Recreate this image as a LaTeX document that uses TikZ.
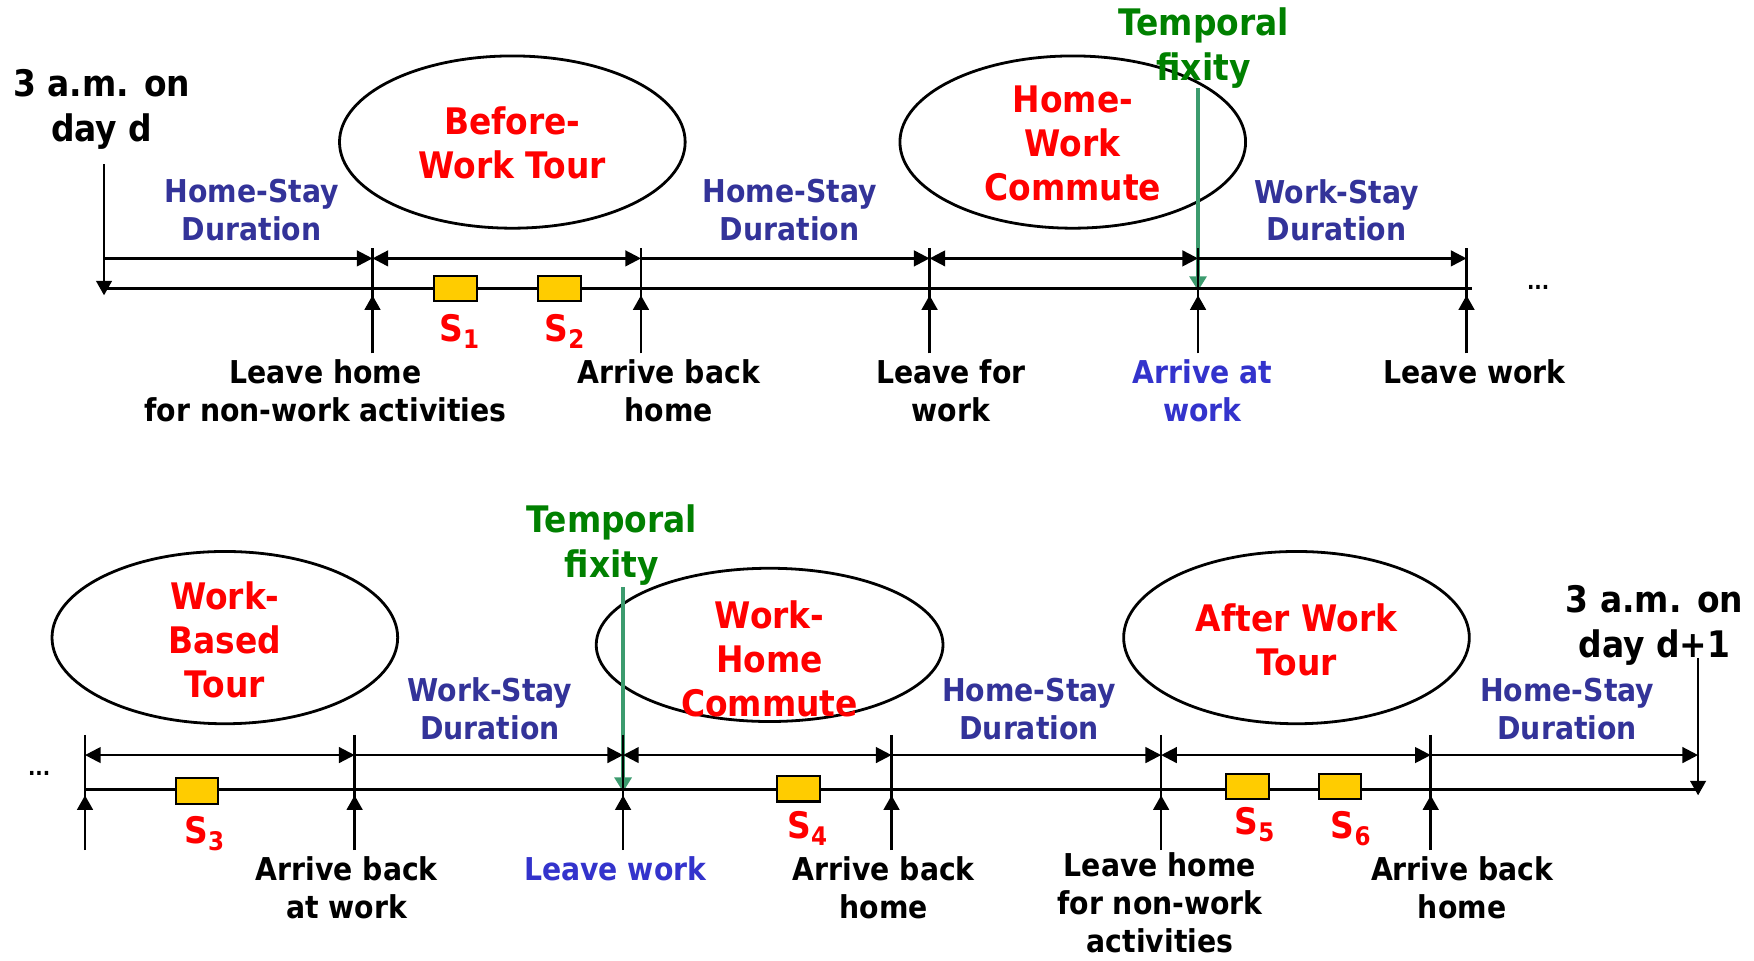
\documentclass[tikz,border=0pt]{standalone}
\usepackage{fontspec}
\setmainfont{DejaVu Sans}[FakeStretch=0.9]
\usetikzlibrary{arrows.meta,shapes.geometric}

\definecolor{tourred}{RGB}{255,0,0}
\definecolor{durblue}{RGB}{51,51,153}
\definecolor{evblue}{RGB}{51,51,204}
\definecolor{fixgreen}{RGB}{0,128,0}
\definecolor{fixline}{RGB}{60,155,110}
\definecolor{stopyellow}{RGB}{255,204,0}

\newcommand\fsLabel{\fontsize{16}{19.3}\selectfont}
\newcommand\fsTour{\fontsize{18.6}{22.4}\selectfont}
\newcommand\fsHead{\fontsize{18.6}{22.7}\selectfont}
\newcommand\fsDots{\fontsize{11}{13}\selectfont}

\begin{document}
\begin{tikzpicture}[x=0.2mm,y=-0.2mm,font=\bfseries,
  timeline/.style={line width=0.6mm},
  span/.style={line width=0.42mm},
  stay/.style={span,-{Triangle[length=2.8mm,width=2.8mm]}},
  tourspan/.style={span,{Triangle[length=2.8mm,width=2.8mm]}-{Triangle[length=2.8mm,width=2.8mm]}},
  tickline/.style={line width=0.45mm},
  event/.style={tickline,-{Triangle[length=2.6mm,width=2.8mm]}},
  fixarrow/.style={draw=fixline,line width=0.72mm,-{Triangle[length=2.6mm,width=3mm,fill=fixline]}},
  stopbox/.style={draw,line width=0.36mm,fill=stopyellow,minimum width=7.6mm,minimum height=4.6mm,inner sep=0},
  tourshape/.style={draw,ellipse,line width=0.5mm,minimum width=61.8mm,minimum height=30.8mm,inner sep=0},
  lbl/.style={align=center,inner sep=0,font=\bfseries\fsLabel},
  dur/.style={lbl,text=durblue},
  evlbl/.style={lbl,text=evblue},
  tourtxt/.style={align=center,inner sep=0,font=\bfseries\fsTour,text=tourred},
  head/.style={align=center,inner sep=0,font=\bfseries\fsHead},
  fix/.style={head,text=fixgreen},
  stoplbl/.style={inner sep=0,font=\bfseries\fsTour,text=tourred},
  dots/.style={inner sep=0,font=\bfseries\fsDots,anchor=base}]
\useasboundingbox (0,0) rectangle (1568,859);

% ---------------- first half of the day ----------------
\coordinate (dayA) at (93,147);
\coordinate (dayAtip) at (93,264);
\coordinate (lineAstart) at (93,258);
\coordinate (lineAend) at (1316,258);
\coordinate (spanAstart) at (93,231);
\foreach \x [count=\i] in {333,573,831,1071,1311}{
  \coordinate (tA\i) at (\x,222);
  \coordinate (dA\i) at (\x,231);
  \coordinate (bA\i) at (\x,316);
  \coordinate (uA\i) at (\x,264);
}

\node[tourshape] (bwt) at (458,127) {};
\node[tourshape] (hwc) at (959,127) {};

\coordinate (fixAtop) at (1071,79);
\coordinate (fixAtip) at (1071,260);
\draw[fixarrow] (fixAtop) -- (fixAtip);

\draw[timeline] (lineAstart) -- (lineAend);
\draw[event] (dayA) -- (dayAtip);
\foreach \i in {1,...,5}{
  \draw[tickline] (tA\i) -- (bA\i);
  \draw[event] (bA\i) -- (uA\i);
}
\draw[stay] (spanAstart) -- (dA1);
\draw[tourspan] (dA1) -- (dA2);
\draw[stay] (dA2) -- (dA3);
\draw[tourspan] (dA3) -- (dA4);
\draw[stay] (dA4) -- (dA5);

\node[stopbox] (s1) at (407,258) {};
\node[stopbox] (s2) at (500,258) {};
\node[stoplbl] (s1l) at (411,296) {S\textsubscript{1}};
\node[stoplbl] (s2l) at (505,296) {S\textsubscript{2}};

\node[head] (amA) at (91,98) {3 a.m. on\\day d};
\node[tourtxt] (bwtt) at (458,128) {Before-\\Work Tour};
\node[tourtxt] (hwct) at (959,128) {Home-\\Work\\Commute};
\node[fix] (fixA) at (1076,43) {Temporal\\fixity};
\node[dur] (durA1) at (225,188) {Home-Stay\\Duration};
\node[dur] (durA2) at (706,188) {Home-Stay\\Duration};
\node[dur] (durA3) at (1195,188) {Work-Stay\\Duration};

\node[lbl] (evA1) at (291,349) {Leave home\\for non-work activities};
\node[lbl] (evA2) at (598,349) {Arrive back\\home};
\node[lbl] (evA3) at (850,349) {Leave for\\work};
\node[evlbl] (evA4) at (1075,349) {Arrive at\\work};
\node[lbl] (evA5) at (1318,332) {Leave work};
\node[dots] (moreA) at (1375,259) {...};

% ---------------- second half of the day ----------------
\coordinate (lineBstart) at (76,706);
\coordinate (lineBend) at (1518,706);
\coordinate (spanBend) at (1518,675);
\coordinate (dayB) at (1518,588);
\coordinate (dayBtip) at (1518,711);
\foreach \x [count=\i] in {76,317,557,797,1038,1279}{
  \coordinate (tB\i) at (\x,657);
  \coordinate (dB\i) at (\x,675);
  \coordinate (bB\i) at (\x,760);
  \coordinate (uB\i) at (\x,711);
}

\node[tourshape] (wbt) at (201,570) {};
\node[tourshape,minimum width=62mm,minimum height=27.4mm] (whc) at (688,576.5) {};
\node[tourshape] (awt) at (1159,570) {};

\coordinate (fixBtop) at (557,525);
\coordinate (fixBtip) at (557,708);
\draw[fixarrow] (fixBtop) -- (fixBtip);

\draw[timeline] (lineBstart) -- (lineBend);
\draw[event] (dayB) -- (dayBtip);
\foreach \i in {1,...,6}{
  \draw[tickline] (tB\i) -- (bB\i);
  \draw[event] (bB\i) -- (uB\i);
}
\draw[tourspan] (dB1) -- (dB2);
\draw[stay] (dB2) -- (dB3);
\draw[tourspan] (dB3) -- (dB4);
\draw[stay] (dB4) -- (dB5);
\draw[tourspan] (dB5) -- (dB6);
\draw[stay] (dB6) -- (spanBend);

\node[stopbox] (s3) at (176,707) {};
\node[stopbox] (s4) at (714,705) {};
\node[stopbox] (s5) at (1115,703) {};
\node[stopbox] (s6) at (1198,703) {};
\node[stoplbl] (s3l) at (183,745) {S\textsubscript{3}};
\node[stoplbl] (s4l) at (722,741) {S\textsubscript{4}};
\node[stoplbl] (s5l) at (1122,737) {S\textsubscript{5}};
\node[stoplbl] (s6l) at (1208,741) {S\textsubscript{6}};

\node[tourtxt] (wbtt) at (201,572) {Work-\\Based\\Tour};
\node[tourtxt] (whct) at (688,589) {Work-\\Home\\Commute};
\node[tourtxt] (awtt) at (1159,572) {After Work\\Tour};
\node[fix] (fixB) at (547,487) {Temporal\\fixity};
\node[head] (amB) at (1479,559) {3 a.m. on\\day d+1};
\node[dur] (durB1) at (438,634) {Work-Stay\\Duration};
\node[dur] (durB2) at (920,634) {Home-Stay\\Duration};
\node[dur] (durB3) at (1401,634) {Home-Stay\\Duration};

\node[lbl] (evB2) at (310,794) {Arrive back\\at work};
\node[evlbl] (evB3) at (550,777) {Leave work};
\node[lbl] (evB4) at (790,794) {Arrive back\\home};
\node[lbl] (evB5) at (1037,807) {Leave home\\for non-work\\activities};
\node[lbl] (evB6) at (1307,794) {Arrive back\\home};
\node[dots] (moreB) at (35,693) {...};
\end{tikzpicture}
\end{document}
